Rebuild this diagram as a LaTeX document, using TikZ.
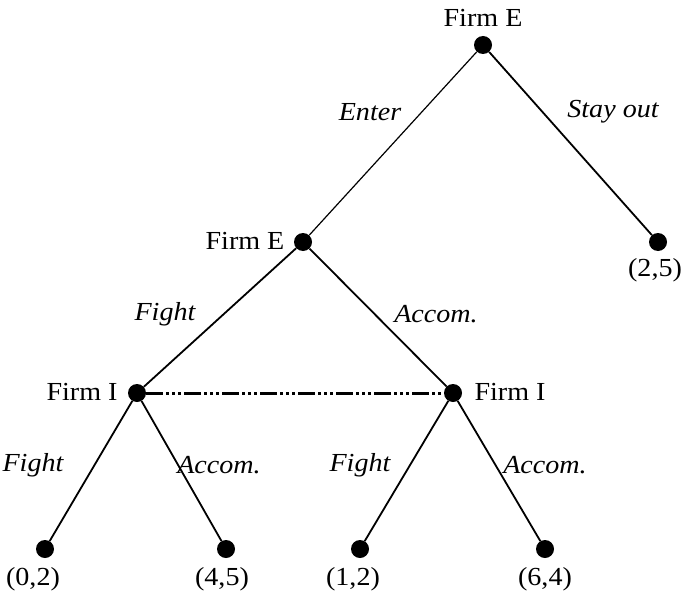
\documentclass[tikz,border=0pt]{standalone}
\usepackage{fontspec}
\setmainfont{Liberation Serif}
\newcommand{\wide}[1]{\scalebox{1.08}[1]{#1}}
\begin{document}
\begin{tikzpicture}[x=1pt,y=-1pt,
  dot/.style={circle,fill=black,inner sep=0pt,minimum size=18pt},
  lab/.style={font=\fontsize{26}{28}\selectfont,inner sep=0pt},
  elab/.style={font=\fontsize{26}{28}\selectfont\itshape,inner sep=0pt},
  edge/.style={line width=1.8pt},
  info/.style={line width=3pt,dash pattern=on 17pt off 3pt on 3pt off 3pt on 3pt off 3pt on 3pt off 3pt}]
\useasboundingbox (0,0) rectangle (684,596);
\node[dot] (r) at (483,45) {};
\node[dot] (e) at (303,242) {};
\node[dot] (s) at (658,242) {};
\node[dot] (i1) at (137,393) {};
\node[dot] (i2) at (453,393) {};
\node[dot] (l1) at (45,549) {};
\node[dot] (l2) at (226,549) {};
\node[dot] (l3) at (360,549) {};
\node[dot] (l4) at (545,549) {};
\node[lab] (tr) at (483,18) {\wide{Firm E}};
\node[lab] (te) at (245,241) {\wide{Firm E}};
\node[lab] (ti1) at (82,392) {\wide{Firm I}};
\node[lab] (ti2) at (510,392) {\wide{Firm I}};
\node[lab] (ps) at (655,270) {\wide{(2,5)}};
\node[lab] (p1) at (33,579) {\wide{(0,2)}};
\node[lab] (p2) at (222,579) {\wide{(4,5)}};
\node[lab] (p3) at (353,579) {\wide{(1,2)}};
\node[lab] (p4) at (545,579) {\wide{(6,4)}};
\draw[line width=1.2pt] (r) -- (e);
\draw[edge] (r) -- (s);
\draw[edge] (e) -- (i1);
\draw[edge] (e) -- (i2);
\draw[edge] (i1) -- (l1);
\draw[edge] (i1) -- (l2);
\draw[edge] (i2) -- (l3);
\draw[edge] (i2) -- (l4);
\draw[info] (i1) -- (i2);
\node[elab] (a1) at (370,112) {\wide{Enter}};
\node[elab] (a2) at (613,112) {\wide{Stay out}};
\node[elab] (a3) at (165,314) {\wide{Fight}};
\node[elab] (a4) at (436,314) {\wide{Accom.}};
\node[elab] (a5) at (33,465) {\wide{Fight}};
\node[elab] (a6) at (219,465) {\wide{Accom.}};
\node[elab] (a7) at (360,465) {\wide{Fight}};
\node[elab] (a8) at (545,465) {\wide{Accom.}};
\end{tikzpicture}
\end{document}
